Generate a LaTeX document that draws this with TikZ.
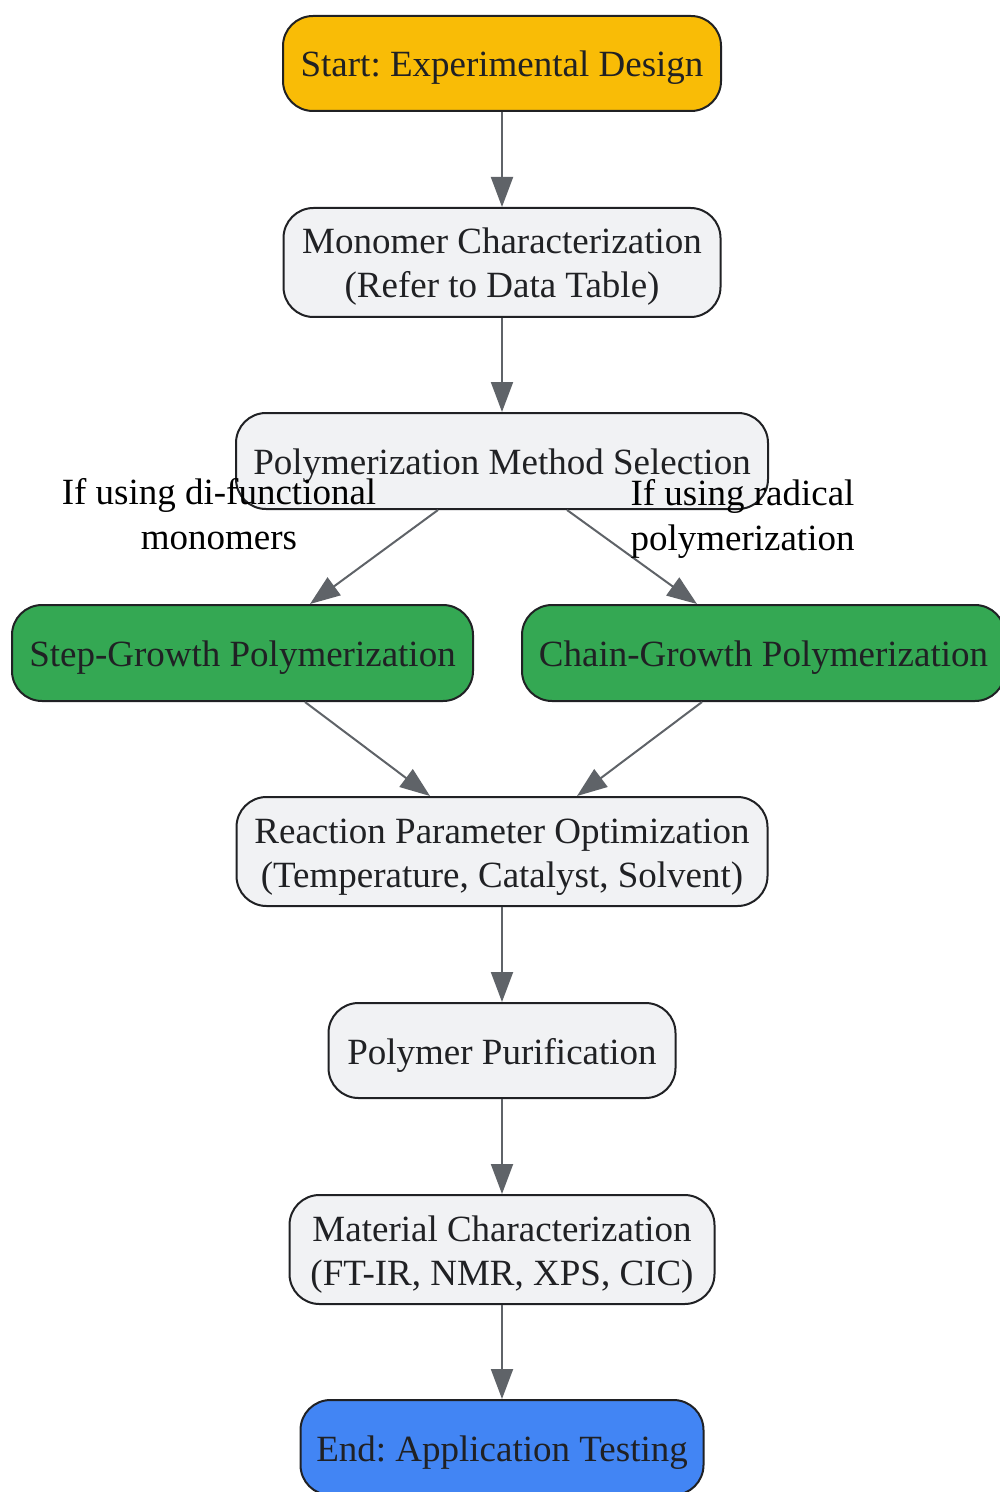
\documentclass[tikz,border=0pt]{standalone}
\usepackage{fontspec}
\setmainfont{Liberation Serif}
\usetikzlibrary{arrows.meta}
\definecolor{startc}{HTML}{F9BC06}
\definecolor{stepc}{HTML}{34A853}
\definecolor{endc}{HTML}{4285F4}
\definecolor{boxc}{HTML}{F1F2F4}
\definecolor{bordc}{HTML}{202124}
\definecolor{edgec}{HTML}{5F6368}
\frenchspacing
\newcommand\topstrut{\rule{0pt}{18pt}}
\newcommand\botstrut{\rule[-4.5pt]{0pt}{0pt}}
\begin{document}
\begin{tikzpicture}[x=0.5pt,y=-0.5pt,
  box/.style={draw=bordc, line width=1pt, rounded corners=15pt, fill=boxc,
    text=bordc, align=center, inner sep=0pt,
    font=\fontsize{18.5}{22}\selectfont},
  flow/.style={draw=edgec, line width=1pt, -{Triangle[length=15pt,width=11pt]}},
  lab/.style={align=center, inner sep=0pt, text=black, font=\fontsize{18.5}{22.5}\selectfont}]
\useasboundingbox (0,0) rectangle (1000,1492);
\node[box, fill=startc, minimum width=219pt, minimum height=47.5pt] (start) at (502,63.5) {\topstrut Start: Experimental Design\botstrut};
\node[box, minimum width=218.5pt, minimum height=54.5pt] (mono) at (502,262.5) {\topstrut Monomer Characterization\\(Refer to Data Table)\botstrut};
\node[box, minimum width=266pt, minimum height=48pt] (method) at (502,461) {\topstrut Polymerization Method Selection\botstrut};
\node[box, fill=stepc, minimum width=230.5pt, minimum height=48pt] (step) at (242.5,653) {\topstrut Step-Growth Polymerization\botstrut};
\node[box, fill=stepc, minimum width=241.5pt, minimum height=48pt] (chain) at (763.5,653) {\topstrut Chain-Growth Polymerization\botstrut};
\node[box, minimum width=265.5pt, minimum height=54.5pt] (react) at (502,851.5) {\topstrut Reaction Parameter Optimization\\(Temperature, Catalyst, Solvent)\botstrut};
\node[box, minimum width=173.5pt, minimum height=47.5pt] (purif) at (502,1050.5) {\topstrut Polymer Purification\botstrut};
\node[box, minimum width=212.5pt, minimum height=54.5pt] (mat) at (502,1249.5) {\topstrut Material Characterization\\(FT-IR, NMR, XPS, CIC)\botstrut};
\node[box, fill=endc, minimum width=201.5pt, minimum height=47.5pt] (end) at (502,1447.5) {\topstrut End: Application Testing\botstrut};

\draw[flow] (start) -- (mono);
\draw[flow] (mono) -- (method);
\draw[flow] ([xshift=-32pt]method.south) -- ([xshift=33.75pt]step.north);
\draw[flow] ([xshift=32.5pt]method.south) -- ([xshift=-33.25pt]chain.north);
\draw[flow] ([xshift=31.25pt]step.south) -- ([xshift=-36pt]react.north);
\draw[flow] ([xshift=-30.75pt]chain.south) -- ([xshift=37.5pt]react.north);
\draw[flow] (react) -- (purif);
\draw[flow] (purif) -- (mat);
\draw[flow] (mat) -- (end);

\node[lab] (l1) at (219,513.6) {\topstrut If using di-functional\\monomers\botstrut};
\node[lab] (l2) at (742.5,514.2) {\topstrut If using radical\\polymerization\botstrut};
\end{tikzpicture}
\end{document}
